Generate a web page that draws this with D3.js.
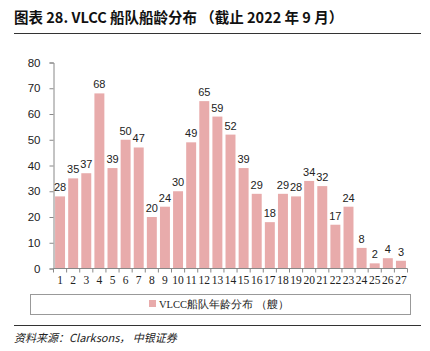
<!DOCTYPE html>
<html>
<head>
<meta charset="utf-8">
<script src="https://cdn.jsdelivr.net/npm/d3@7"></script>
<style>
  body { margin: 0; background: #fff; }
  svg { display: block; }
</style>
</head>
<body>
<div id="chart"></div>
<script>
// data
const ages = d3.range(1, 28).map(String)
const ships = [28, 35, 37, 68, 39, 50, 47, 20, 24, 30, 49, 65, 59, 52, 39, 29, 18, 29, 28, 34, 32, 17, 24, 8, 2, 4, 3]
const yTicks = [0, 10, 20, 30, 40, 50, 60, 70, 80]

const title = "图表 28. VLCC 船队船龄分布 （截止 2022 年 9 月）"
const seriesName = "VLCC船队年龄分布 （艘）"
const sourceText = "资料来源：Clarksons， 中银证券"

const W = 430, H = 351
const barColor = "#e8abab"
const sans = "'Liberation Sans', Arial, sans-serif"
const cjk = "'Noto Sans CJK SC', sans-serif"
const serif = "'Liberation Serif', 'Times New Roman', serif"

const svg = d3.select("#chart").append("svg")
  .attr("width", W)
  .attr("height", H)

// title + rules
svg.append("text")
  .attr("x", 14)
  .attr("y", 23)
  .attr("font-family", cjk)
  .attr("font-weight", "bold")
  .attr("font-size", 14.5)
  .attr("fill", "#111")
  .text(title)

svg.append("line")
  .attr("x1", 14).attr("x2", 421)
  .attr("y1", 33.5).attr("y2", 33.5)
  .attr("stroke", "#333").attr("stroke-width", 1)

svg.append("line")
  .attr("x1", 14).attr("x2", 421)
  .attr("y1", 325.5).attr("y2", 325.5)
  .attr("stroke", "#333").attr("stroke-width", 1)

svg.append("text")
  .attr("x", 14)
  .attr("y", 342)
  .attr("font-family", cjk)
  .attr("font-style", "italic")
  .attr("font-size", 11)
  .attr("fill", "#222")
  .text(sourceText)

// scales
const x = d3.scaleBand()
  .domain(ages)
  .range([53.5, 407.5])
  .paddingInner(0.24)
  .paddingOuter(0.12)

const y = d3.scaleLinear()
  .domain([0, 80])
  .range([268.5, 62.5])

// y axis
const yAxis = svg.append("g")
  .attr("transform", "translate(53.5,0)")
  .call(d3.axisLeft(y).tickValues(yTicks).tickSize(4).tickPadding(9))

yAxis.select(".domain").attr("stroke", "#888")
yAxis.selectAll(".tick line").attr("stroke", "#888")
yAxis.selectAll("text")
  .attr("font-family", sans)
  .attr("font-size", 11.5)
  .attr("fill", "#222")

// bars
svg.append("g")
  .selectAll("rect")
  .data(ships)
  .join("rect")
  .attr("x", (d, i) => x(ages[i]))
  .attr("y", d => y(d))
  .attr("width", x.bandwidth())
  .attr("height", d => y(0) - y(d))
  .attr("fill", barColor)

// value labels
svg.append("g")
  .selectAll("text")
  .data(ships)
  .join("text")
  .attr("x", (d, i) => x(ages[i]) + x.bandwidth() / 2)
  .attr("y", d => y(d) - 5)
  .attr("text-anchor", "middle")
  .attr("font-family", sans)
  .attr("font-size", 11)
  .attr("fill", "#222")
  .text(d => d)

// x axis with ticks between categories
const xAxis = svg.append("g")
  .attr("transform", `translate(0,${y(0)})`)

xAxis.append("line")
  .attr("x1", 53.5).attr("x2", 407.5)
  .attr("y1", 0).attr("y2", 0)
  .attr("stroke", "#888")

xAxis.selectAll(".sep")
  .data(d3.range(ages.length + 1))
  .join("line")
  .attr("class", "sep")
  .attr("x1", i => 53.5 + (407.5 - 53.5) * i / ages.length)
  .attr("x2", i => 53.5 + (407.5 - 53.5) * i / ages.length)
  .attr("y1", 0).attr("y2", 4)
  .attr("stroke", "#888")

xAxis.selectAll(".lbl")
  .data(ages)
  .join("text")
  .attr("class", "lbl")
  .attr("x", d => x(d) + x.bandwidth() / 2)
  .attr("y", 15)
  .attr("text-anchor", "middle")
  .attr("font-family", serif)
  .attr("font-size", 11.5)
  .attr("fill", "#222")
  .text(d => d)

// legend box
const legend = svg.append("g")

legend.append("rect")
  .attr("x", 30.5).attr("y", 294.5)
  .attr("width", 380).attr("height", 20)
  .attr("fill", "none")
  .attr("stroke", "#999")

legend.append("rect")
  .attr("x", 149).attr("y", 300)
  .attr("width", 7).attr("height", 7)
  .attr("fill", barColor)

legend.append("text")
  .attr("x", 159)
  .attr("y", 308)
  .attr("font-family", serif)
  .attr("font-size", 10.5)
  .attr("fill", "#222")
  .text(seriesName)
</script>
</body>
</html>
